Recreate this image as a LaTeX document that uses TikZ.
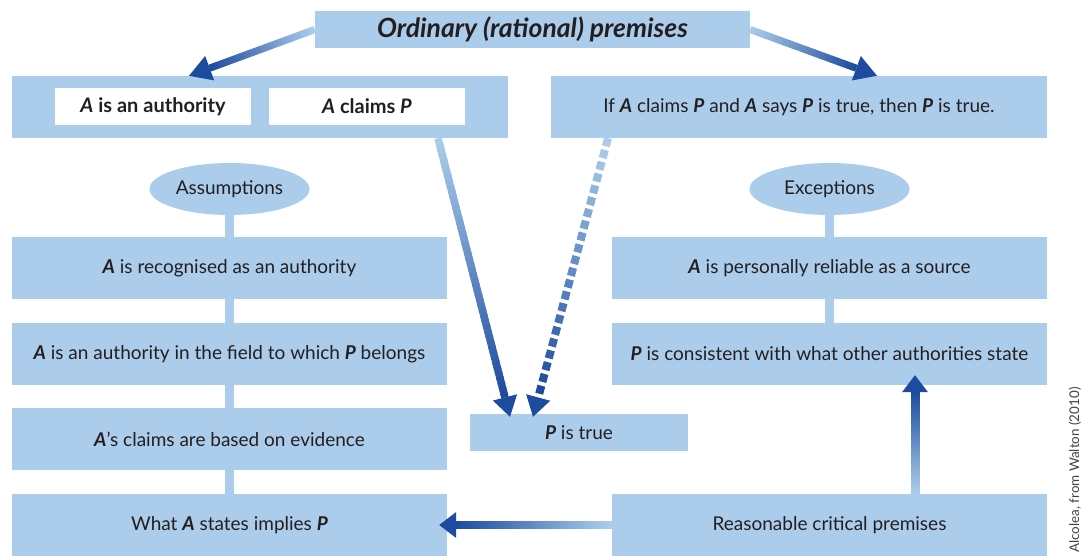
\documentclass[tikz,border=0pt]{standalone}
\usepackage{fontspec}
\setmainfont{Lato}
\usetikzlibrary{calc,shapes.geometric}
\definecolor{boxblue}{HTML}{ABCDEB}
\definecolor{adark}{HTML}{1C4BA0}
\definecolor{alight}{HTML}{ABCDEB}
\definecolor{txt}{HTML}{231F20}
\newcommand{\bi}[1]{\textbf{\textit{#1}}}
\newcommand{\gshaft}[3]{%
  \foreach \i in {0,...,49}{%
    \pgfmathsetmacro{\ta}{\i/50}%
    \pgfmathsetmacro{\tb}{min(1,(\i+1.6)/50)}%
    \pgfmathtruncatemacro{\pc}{100*\i/49}%
    \draw[line width=#3, draw=adark!\pc!alight] ($(#1)!\ta!(#2)$) -- ($(#1)!\tb!(#2)$);
  }}
\newcommand{\dshaft}[3]{%
  \foreach \i in {0,...,21}{%
    \pgfmathsetmacro{\ta}{\i/22}%
    \pgfmathsetmacro{\tb}{(\i+0.68)/22}%
    \pgfmathtruncatemacro{\pc}{100*\i/21}%
    \draw[line width=#3, draw=adark!\pc!alight] ($(#1)!\ta!(#2)$) -- ($(#1)!\tb!(#2)$);
  }}
\newcommand{\headtip}[4]{%
  \coordinate (hb) at ($(#2)!#3pt!(#1)$);
  \fill[adark] (#2) -- ($(hb)!#4pt!90:(#2)$) -- ($(hb)!#4pt!-90:(#2)$) -- cycle;}
\newcommand{\garrow}[5]{%
  \coordinate (hb0) at ($(#2)!#4pt!(#1)$);
  \gshaft{#1}{hb0}{#3}
  \headtip{#1}{#2}{#4}{#5}}
\newcommand{\darrow}[5]{%
  \coordinate (hb0) at ($(#2)!#4pt!(#1)$);
  \dshaft{#1}{hb0}{#3}
  \headtip{#1}{#2}{#4}{#5}}
\tikzset{
  box/.style={rectangle, fill=boxblue, inner sep=0pt, text=txt, font=\fontsize{19}{22}\selectfont},
  wbox/.style={rectangle, fill=white, inner sep=0pt, text=txt, font=\fontsize{20}{23}\selectfont\bfseries, minimum width=196pt, minimum height=37pt},
  ell/.style={ellipse, fill=boxblue, inner sep=0pt, text=txt, font=\fontsize{19}{22}\selectfont, minimum width=160pt, minimum height=52pt},
  link/.style={draw=boxblue, line width=9pt},
}
\begin{document}
\begin{tikzpicture}[x=1pt,y=-1pt]
\useasboundingbox[fill=white] (0,0) rectangle (1085,556);
% top row
\node[box, minimum width=435pt, minimum height=37pt, font=\fontsize{26.5}{29}\selectfont\bfseries\itshape] (top) at (532.5,29.5) {Ordinary (rational) premises};
\node[box, minimum width=496pt, minimum height=62pt] (lb) at (260,107) {};
\node[wbox] (w1) at (153,106.5) {\textit{A} is an authority};
\node[wbox] (w2) at (367,106.5) {\textit{A} claims \textit{P}};
\node[box, minimum width=496pt, minimum height=62pt] (rb) at (799,107) {If \bi{A} claims \bi{P} and \bi{A} says \bi{P} is true, then \bi{P} is true.};
% ellipses
\node[ell] (ea) at (229.5,189) {Assumptions};
\node[ell] (ee) at (829.5,189) {Exceptions};
% left column
\node[box, minimum width=435pt, minimum height=62pt] (l1) at (229.5,268) {\bi{A} is recognised as an authority};
\node[box, minimum width=435pt, minimum height=62pt] (l2) at (229.5,354) {\bi{A} is an authority in the field to which \bi{P} belongs};
\node[box, minimum width=435pt, minimum height=62pt] (l3) at (229.5,439) {\bi{A}'s claims are based on evidence};
\node[box, minimum width=435pt, minimum height=62pt] (l4) at (229.5,525) {What \bi{A} states implies \bi{P}};
% right column
\node[box, minimum width=435pt, minimum height=62pt] (r1) at (829.5,268) {\bi{A} is personally reliable as a source};
\node[box, minimum width=435pt, minimum height=62pt] (r2) at (829.5,354) {\bi{P} is consistent with what other authorities state};
\node[box, minimum width=435pt, minimum height=62pt] (r3) at (829.5,525) {Reasonable critical premises};
% P is true
\node[box, minimum width=218pt, minimum height=37pt] (pt) at (579,432.5) {\bi{P} is true};
% links
\draw[link] (ea.south) -- (l1.north);
\draw[link] (l1.south) -- (l2.north);
\draw[link] (l2.south) -- (l3.north);
\draw[link] (l3.south) -- (l4.north);
\draw[link] (ee.south) -- (r1.north);
\draw[link] (r1.south) -- (r2.north);
% arrows
\coordinate (s1) at (top.west);
\coordinate (t1) at ($(lb.north)+(-71,0)$);
\garrow{s1}{t1}{7pt}{22}{13}
\coordinate (s2) at (top.east);
\coordinate (t2) at ($(rb.north)+(78,0)$);
\garrow{s2}{t2}{7pt}{22}{13}
\coordinate (s3) at ($(lb.south)+(178,0)$);
\coordinate (t3) at ($(pt.north)+(-69,3)$);
\garrow{s3}{t3}{7.5pt}{20}{12.5}
\coordinate (s4) at ($(rb.south)+(-191,0)$);
\coordinate (t4) at ($(pt.north)+(-46,3)$);
\darrow{s4}{t4}{8pt}{20}{12.5}
\coordinate (s5) at ($(r3.north)+(85.5,0)$);
\coordinate (t5) at ($(r2.south)+(85.5,-10)$);
\garrow{s5}{t5}{9pt}{17}{13}
\coordinate (t6) at ($(l4.east)+(-8,0)$);
\garrow{r3.west}{t6}{8pt}{17}{13}
% credit
\node[rotate=90, text=txt!85, font=\fontsize{13.4}{15}\selectfont] (credit) at (1075,470) {Alcolea, from Walton (2010)};
\end{tikzpicture}
\end{document}
